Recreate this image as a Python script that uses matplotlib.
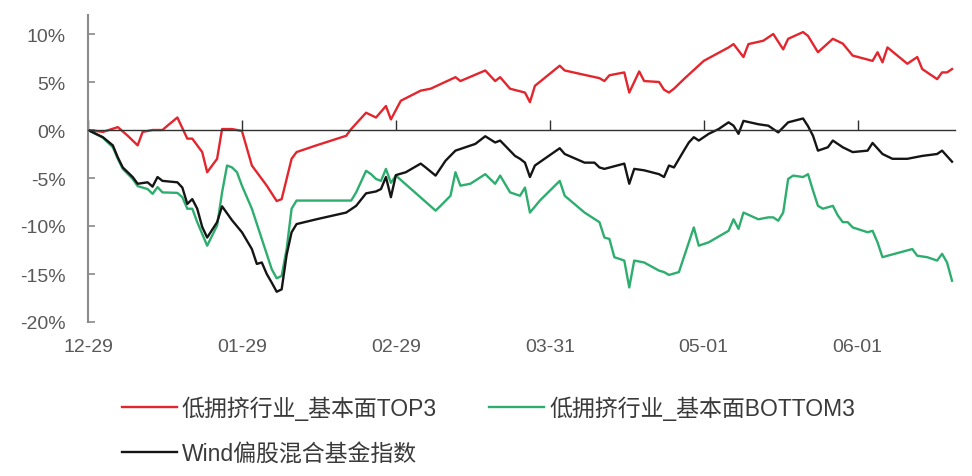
import matplotlib
matplotlib.use('Agg')
import matplotlib.pyplot as plt
import matplotlib.dates as mdates
import pandas as pd

plt.rcParams['font.family'] = ['Liberation Sans', 'Noto Sans CJK SC', 'DejaVu Sans']

start_date = '2023-12-29'

series_names = ['低拥挤行业_基本面TOP3', '低拥挤行业_基本面BOTTOM3', 'Wind偏股混合基金指数']

top3_days = [0, 3, 6, 8, 10, 11, 13, 15, 16, 18, 20, 21, 23, 24, 26, 27, 29, 31, 33, 36,
             38, 39, 41, 42, 46, 52, 53, 56, 58, 60, 61, 63, 67, 69, 74, 75, 80, 82, 83, 85,
             88, 89, 90, 95, 96, 103, 104, 105, 108, 109, 111, 112, 115, 116, 117, 118, 120, 124, 129, 130,
             132, 133, 136, 138, 140, 141, 144, 145, 147, 150, 152, 154, 158, 159, 160, 161, 163, 165, 167, 168,
             171, 172, 173, 174]
top3_values = [0, -0.2, 0.3, -0.6, -1.6, -0.2, 0.0, 0.0, 0.45, 1.3, -0.9, -0.9, -2.3, -4.4, -3.0, 0.1, 0.1, -0.1, -3.7, -5.8,
               -7.4, -7.2, -3.0, -2.3, -1.6, -0.6, 0.1, 1.8, 1.3, 2.5, 1.1, 3.05, 4.1, 4.3, 5.5, 5.1, 6.2, 5.1, 5.5, 4.3,
               3.9, 2.9, 4.6, 6.7, 6.2, 5.4, 5.1, 5.7, 6.0, 3.9, 6.1, 5.1, 5.0, 4.2, 3.9, 4.3, 5.3, 7.2, 8.6, 8.95,
               7.6, 8.95, 9.3, 10.0, 8.4, 9.5, 10.2, 9.8, 8.1, 9.5, 9.0, 7.75, 7.2, 8.1, 7.05, 8.6, 7.75, 6.9, 7.6, 6.35,
               5.3, 6.0, 6.0, 6.35]

bottom3_days = [0, 3, 5, 6, 7, 9, 10, 12, 13, 14, 15, 18, 19, 20, 21, 22, 24, 26, 27, 28,
                29, 30, 31, 33, 35, 37, 38, 39, 40, 41, 42, 53, 54, 56, 57, 58, 59, 60, 61, 62,
                70, 71, 73, 74, 75, 77, 80, 82, 83, 85, 87, 88, 89, 91, 95, 96, 100, 103, 104, 105,
                106, 108, 109, 110, 112, 115, 116, 117, 119, 122, 123, 125, 129, 130, 131, 132, 135, 137, 138, 139,
                140, 141, 142, 144, 145, 146, 147, 148, 150, 151, 152, 153, 154, 157, 158, 159, 160, 161, 166, 167,
                169, 171, 172, 173, 174]
bottom3_values = [0, -0.8, -1.8, -3.0, -4.05, -5.1, -5.85, -6.15, -6.65, -5.95, -6.5, -6.55, -7.0, -8.2, -8.2, -9.6, -12.05, -9.95, -6.5, -3.7,
                  -3.9, -4.4, -5.8, -8.2, -11.35, -14.5, -15.45, -15.2, -12.4, -8.2, -7.35, -7.35, -6.5, -4.25, -4.6, -5.1, -5.3, -4.05, -5.5, -4.75,
                  -8.4, -7.9, -6.85, -4.4, -5.8, -5.6, -4.6, -5.6, -4.75, -6.5, -6.85, -6.0, -8.6, -7.35, -5.3, -6.85, -8.6, -9.6, -11.2, -11.35,
                  -13.25, -13.6, -16.4, -13.6, -13.8, -14.65, -14.8, -15.1, -14.8, -10.15, -12.05, -11.7, -10.5, -9.3, -10.3, -8.6, -9.3, -9.1, -9.1, -9.45,
                  -8.6, -5.1, -4.75, -4.9, -4.6, -6.3, -7.9, -8.2, -7.9, -8.9, -9.6, -9.6, -10.15, -10.65, -10.5, -11.7, -13.25, -13.1, -12.4, -13.1,
                  -13.25, -13.6, -12.9, -13.8, -15.7]

wind_days = [0, 3, 5, 6, 7, 9, 10, 12, 13, 14, 15, 18, 19, 20, 21, 22, 23, 24, 26, 27,
             29, 31, 33, 34, 35, 36, 37, 38, 39, 40, 41, 42, 46, 52, 54, 56, 58, 59, 60, 61,
             62, 64, 67, 68, 70, 72, 74, 78, 80, 82, 83, 86, 87, 88, 89, 90, 95, 96, 100, 102,
             103, 104, 108, 109, 110, 112, 115, 116, 117, 118, 120, 121, 122, 123, 125, 127, 129, 130, 131, 132,
             135, 137, 139, 141, 144, 145, 146, 147, 149, 150, 152, 154, 157, 158, 160, 162, 165, 168, 171, 172,
             174]
wind_values = [0, -0.75, -1.6, -2.85, -3.9, -4.9, -5.6, -5.45, -5.9, -4.9, -5.3, -5.45, -6.0, -7.7, -7.2, -8.2, -10.1, -11.2, -9.6, -7.95,
               -9.4, -10.65, -12.4, -13.95, -13.8, -15.0, -15.9, -16.85, -16.6, -13.0, -10.65, -9.8, -9.3, -8.6, -7.9, -6.6, -6.4, -6.15, -4.9, -7.0,
               -4.7, -4.4, -3.5, -3.9, -4.75, -3.2, -2.15, -1.45, -0.65, -1.3, -1.1, -2.7, -3.0, -3.4, -4.9, -3.7, -1.9, -2.5, -3.4, -3.4,
               -3.9, -4.05, -3.5, -5.6, -4.05, -4.2, -4.6, -4.9, -3.7, -3.9, -2.15, -1.3, -0.75, -1.1, -0.4, 0.1, 0.8, 0.45, -0.4, 0.95,
               0.6, 0.45, -0.25, 0.8, 1.2, 0.4, -0.6, -2.15, -1.8, -1.1, -1.8, -2.3, -2.15, -1.35, -2.5, -3.0, -3.0, -2.7, -2.5, -2.15,
               -3.3]

tick_dates = ['2023-12-29', '2024-01-29', '2024-02-29', '2024-03-31', '2024-05-01', '2024-06-01']
tick_labels = ['12-29', '01-29', '02-29', '03-31', '05-01', '06-01']
y_ticks = [-20, -15, -10, -5, 0, 5, 10]


def to_dates(days):
    return pd.Timestamp(start_date) + pd.to_timedelta(days, unit='D')


W, H = 972, 477
fig = plt.figure(figsize=(W / 100, H / 100), dpi=100)
ax = fig.add_axes([88 / W, (H - 323) / H, 867 / W, (323 - 15.8) / H])

red = '#E3262D'
green = '#2EAE6E'
black = '#151515'

l1, = ax.plot(to_dates(top3_days), top3_values, color=red, lw=1.7, label=series_names[0])
l2, = ax.plot(to_dates(bottom3_days), bottom3_values, color=green, lw=1.7, label=series_names[1])
l3, = ax.plot(to_dates(wind_days), wind_values, color=black, lw=1.7, label=series_names[2])

x0 = mdates.date2num(pd.Timestamp(start_date))
ax.set_xlim(x0, x0 + 174.6)
ax.set_ylim(-20, 12)

for s in ['top', 'right']:
    ax.spines[s].set_visible(False)
ax.spines['bottom'].set_position(('data', 0))
ax.spines['bottom'].set_color('#303030')
ax.spines['bottom'].set_linewidth(1.0)
ax.spines['left'].set_color('#8a8a8a')
ax.spines['left'].set_linewidth(1.5)

tick_nums = [mdates.date2num(pd.Timestamp(d)) for d in tick_dates]
ax.set_xticks(tick_nums)
ax.tick_params(axis='x', direction='in', length=7, width=1, color='#303030', labelbottom=False)
for xn, lab in zip(tick_nums, tick_labels):
    ax.text(xn, -0.081, lab, transform=ax.get_xaxis_transform(), ha='center', va='center',
            fontsize=14, color='#595959')

ax.set_yticks(y_ticks)
ax.set_yticklabels([f'{v}%' for v in y_ticks])
ax.tick_params(axis='y', direction='in', length=5, width=1.2, color='#8a8a8a',
               labelsize=14, labelcolor='#595959', pad=16)

fig.legend(handles=[l1, l3, l2], labels=[series_names[0], series_names[2], series_names[1]],
           ncol=2, loc='upper left', bbox_to_anchor=(122 / W, (H - 397) / H),
           frameon=False, fontsize=16.5, handlelength=2.4, handletextpad=0.2,
           columnspacing=2.3, labelspacing=0.95, borderpad=0, borderaxespad=0,
           labelcolor='#3a3a3a')

fig.savefig('out.png', dpi=100)
